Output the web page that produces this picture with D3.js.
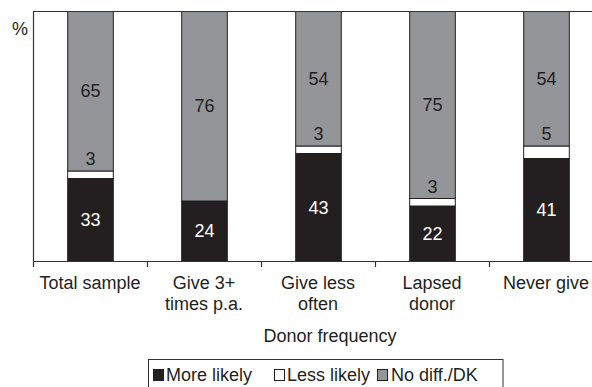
<!DOCTYPE html>
<html><head><meta charset="utf-8">
<script src="https://cdn.jsdelivr.net/npm/d3@7"></script>
<style>
body{margin:0;background:#fff;}
svg{display:block;font-family:"Liberation Sans",Arial,Helvetica,sans-serif;}
</style></head>
<body>
<script>
const categories = ["Total sample","Give 3+ times p.a.","Give less often","Lapsed donor","Never give"];
const categoryLines = [["Total sample"],["Give 3+","times p.a."],["Give less","often"],["Lapsed","donor"],["Never give"]];
const moreLikely = [33,24,43,22,41];
const lessLikely = [3,0,3,3,5];
const noDiff = [65,76,54,75,54];
const seriesNames = ["More likely","Less likely","No diff./DK"];
const xTitle = "Donor frequency";
const yUnit = "%";

const W=592,H=387;
const BLACK="#231f20", GRAY="#939598", TXT="#231f20";
const svg=d3.select("body").append("svg").attr("width",W).attr("height",H);

const x=d3.scaleBand().domain(categories).range([33,603]).paddingInner(0.6).paddingOuter(0.3);
const y=d3.scaleLinear().domain([0,100]).range([261,11]);
const color=d3.scaleOrdinal().domain(seriesNames).range([BLACK,"#ffffff",GRAY]);

const rows=categories.map((c,i)=>({cat:c,"More likely":moreLikely[i],"Less likely":lessLikely[i],"No diff./DK":noDiff[i]}));
const stack=d3.stack().keys(seriesNames)(rows);

svg.append("defs").append("clipPath").attr("id","pc").append("rect")
  .attr("x",33).attr("y",y(100)).attr("width",W-33).attr("height",y(0)-y(100));

const g=svg.append("g").attr("clip-path","url(#pc)");
stack.forEach(s=>{
  g.selectAll(null).data(s.filter(d=>d[1]-d[0]>0)).enter().append("rect")
    .attr("x",d=>x(d.data.cat)+0.5)
    .attr("width",x.bandwidth())
    .attr("y",d=>y(Math.min(d[1],100)))
    .attr("height",d=>y(d[0])-y(Math.min(d[1],100)))
    .attr("fill",color(s.key))
    .attr("stroke",BLACK).attr("stroke-width",1);
});

// frame lines
svg.append("line").attr("x1",33).attr("x2",W).attr("y1",y(100)+0.5).attr("y2",y(100)+0.5).attr("stroke","#333").attr("stroke-width",1.2);
svg.append("line").attr("x1",33).attr("x2",W).attr("y1",y(0)+0.5).attr("y2",y(0)+0.5).attr("stroke","#333").attr("stroke-width",1.2);
svg.append("line").attr("x1",33.5).attr("x2",33.5).attr("y1",y(100)).attr("y2",y(0)+6).attr("stroke","#333").attr("stroke-width",1.2);
// ticks at band boundaries
const step=x.step();
svg.selectAll(null).data(categories.slice(1)).enter().append("line")
  .attr("x1",d=>x(d)-step*0.3+0.5).attr("x2",d=>x(d)-step*0.3+0.5)
  .attr("y1",y(0)).attr("y2",y(0)+6).attr("stroke","#333").attr("stroke-width",1.2);

// value labels
const lab=svg.append("g").attr("font-size",18).attr("text-anchor","middle");
rows.forEach((r,i)=>{
  const cx=x(r.cat)+x.bandwidth()/2+0.5;
  const m=moreLikely[i], l=lessLikely[i], n=noDiff[i];
  lab.append("text").attr("x",cx).attr("y",y(m/2)).attr("dy","0.35em").attr("fill","#fff").text(m);
  const top=Math.min(m+l+n,100);
  lab.append("text").attr("x",cx).attr("y",y((m+l+top)/2)).attr("dy","0.35em").attr("fill",TXT).text(n);
  if(l>0){
    lab.append("text").attr("x",cx).attr("y",y(m+l)-6).attr("fill",TXT).text(l);
  }
});

// category labels
const cl=svg.append("g").attr("font-size",18).attr("text-anchor","middle").attr("fill",TXT);
categories.forEach((c,i)=>{
  const t=cl.append("text").attr("x",x(c)+x.bandwidth()/2).attr("y",289);
  categoryLines[i].forEach((ln,j)=>t.append("tspan").attr("x",x(c)+x.bandwidth()/2).attr("y",289+j*21).text(ln));
});

svg.append("text").attr("x",330).attr("y",342).attr("text-anchor","middle").attr("font-size",18).attr("fill",TXT).text(xTitle);
svg.append("text").attr("x",12).attr("y",35).attr("font-size",18).attr("fill",TXT).text(yUnit);

// legend
const lg=svg.append("g");
lg.append("rect").attr("x",148.5).attr("y",359.5).attr("width",354.5).attr("height",40).attr("fill","none").attr("stroke","#333").attr("stroke-width",1);
const legendX=[[153,166],[274,287],[377,391]];
seriesNames.forEach((s,i)=>{
  lg.append("rect").attr("x",legendX[i][0]+0.5).attr("y",369.5).attr("width",10).attr("height",11)
    .attr("fill",color(s)).attr("stroke",BLACK).attr("stroke-width",1);
  lg.append("text").attr("x",legendX[i][1]).attr("y",381).attr("font-size",18).attr("fill",TXT).text(s);
});
</script>
</body></html>
